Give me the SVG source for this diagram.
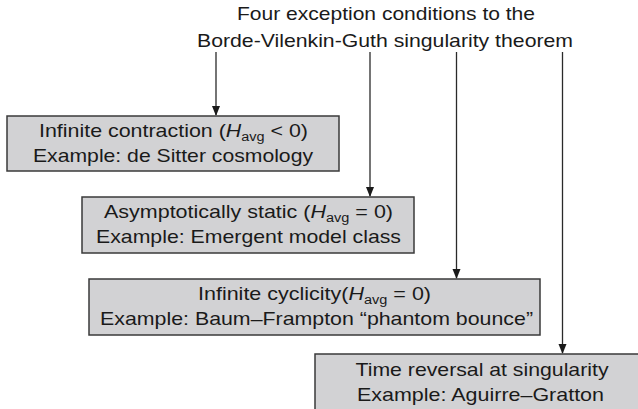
<svg xmlns="http://www.w3.org/2000/svg" width="638" height="409" viewBox="0 0 638 409">
<style>
text{font-family:"Liberation Sans",Arial,sans-serif;font-size:18.5px;fill:#1a1a1a;text-anchor:middle}
.box{fill:#d2d2d4;stroke:#3a3a3a;stroke-width:1.5}
.sub{font-size:12.5px}
.it{font-style:italic}
.conn line{stroke:#2a2a2a;stroke-width:1.3}
</style>
<defs>
<marker id="ah" markerWidth="10" markerHeight="10" refX="9" refY="4" orient="auto" markerUnits="userSpaceOnUse" viewBox="0 0 10 8">
<path d="M0,0 L10,4 L0,8 Z" fill="#1a1a1a"/>
</marker>
</defs>
<g id="title">
<text x="386" y="20" textLength="298" lengthAdjust="spacingAndGlyphs">Four exception conditions to the</text>
<text x="385" y="47" textLength="376" lengthAdjust="spacingAndGlyphs">Borde-Vilenkin-Guth singularity theorem</text>
</g>
<g class="conn" id="connectors">
<line x1="216" y1="52" x2="216" y2="115" marker-end="url(#ah)"/>
<line x1="370" y1="52" x2="370" y2="196" marker-end="url(#ah)"/>
<line x1="456.5" y1="52" x2="456.5" y2="278" marker-end="url(#ah)"/>
<line x1="562.5" y1="52" x2="562.5" y2="353" marker-end="url(#ah)"/>
</g>
<g id="node1">
<rect class="box" x="7" y="116" width="332" height="55"/>
<text x="173.5" y="137" textLength="269" lengthAdjust="spacingAndGlyphs">Infinite contraction (<tspan class="it">H</tspan><tspan class="sub" dy="4">avg</tspan><tspan dy="-4"> &lt; 0)</tspan></text>
<text x="173" y="162" textLength="280" lengthAdjust="spacingAndGlyphs">Example: de Sitter cosmology</text>
</g>
<g id="node2">
<rect class="box" x="82" y="197" width="332" height="56"/>
<text x="248.5" y="218" textLength="289" lengthAdjust="spacingAndGlyphs">Asymptotically static (<tspan class="it">H</tspan><tspan class="sub" dy="4">avg</tspan><tspan dy="-4"> = 0)</tspan></text>
<text x="248.5" y="243" textLength="305" lengthAdjust="spacingAndGlyphs">Example: Emergent model class</text>
</g>
<g id="node3">
<rect class="box" x="89" y="279" width="451" height="56"/>
<text x="314.5" y="300" textLength="233" lengthAdjust="spacingAndGlyphs">Infinite cyclicity(<tspan class="it">H</tspan><tspan class="sub" dy="4">avg</tspan><tspan dy="-4"> = 0)</tspan></text>
<text x="316.5" y="325" textLength="433" lengthAdjust="spacingAndGlyphs">Example: Baum–Frampton “phantom bounce”</text>
</g>
<g id="node4">
<rect class="box" x="315" y="354" width="334" height="70"/>
<text x="482" y="376" textLength="253" lengthAdjust="spacingAndGlyphs">Time reversal at singularity</text>
<text x="480.5" y="401" textLength="247" lengthAdjust="spacingAndGlyphs">Example: Aguirre–Gratton</text>
</g>
</svg>
